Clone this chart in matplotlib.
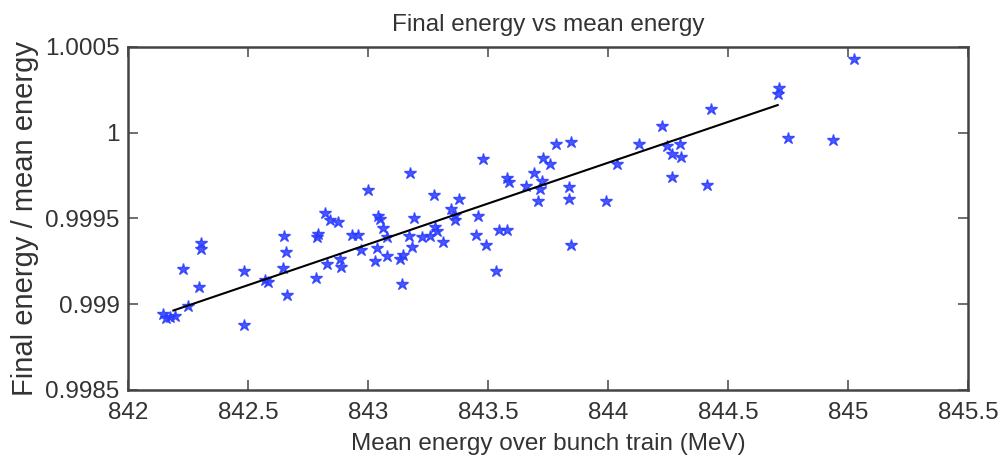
import matplotlib.pyplot as plt
import numpy as np

# mean energy over bunch train (MeV)
mean_energy = [
    842.147, 842.175, 842.196, 842.160, 842.249, 842.230, 842.303, 842.303,
    842.296, 842.483, 842.483, 842.582, 842.570, 842.650, 842.657, 842.645,
    842.661, 842.793, 842.786, 842.782, 842.830, 842.820, 842.840, 842.876,
    842.888, 842.883, 842.932, 842.960, 842.970, 842.999, 843.043, 843.050,
    843.064, 843.078, 843.036, 843.029, 843.080, 843.133, 843.145, 843.143,
    843.175, 843.170, 843.182, 843.193, 843.224, 843.258, 843.275, 843.279,
    843.289, 843.314, 843.345, 843.378, 843.364, 843.363, 843.458, 843.449,
    843.490, 843.480, 843.532, 843.547, 843.580, 843.578, 843.589, 843.658,
    843.692, 843.710, 843.717, 843.724, 843.728, 843.758, 843.782, 843.846,
    843.839, 843.839, 843.846, 843.992, 844.039, 844.129, 844.226, 844.245,
    844.268, 844.300, 844.303, 844.265, 844.411, 844.429, 844.714, 844.710,
    844.749, 844.936, 845.025,
]

# final energy / mean energy
ratio = [
    0.998944, 0.998924, 0.998930, 0.998920, 0.998988, 0.999205, 0.999356, 0.999321,
    0.999099, 0.999195, 0.998876, 0.999128, 0.999140, 0.999395, 0.999306, 0.999209,
    0.999054, 0.999409, 0.999391, 0.999151, 0.999234, 0.999530, 0.999490, 0.999480,
    0.999215, 0.999263, 0.999403, 0.999403, 0.999317, 0.999666, 0.999515, 0.999496,
    0.999442, 0.999390, 0.999326, 0.999253, 0.999279, 0.999263, 0.999287, 0.999118,
    0.999763, 0.999395, 0.999331, 0.999500, 0.999390, 0.999395, 0.999637, 0.999448,
    0.999428, 0.999360, 0.999554, 0.999612, 0.999492, 0.999520, 0.999515, 0.999403,
    0.999345, 0.999845, 0.999195, 0.999432, 0.999432, 0.999733, 0.999709, 0.999686,
    0.999767, 0.999602, 0.999670, 0.999719, 0.999849, 0.999816, 0.999932, 0.999945,
    0.999680, 0.999612, 0.999345, 0.999602, 0.999816, 0.999932, 1.000038, 0.999922,
    0.999874, 0.999932, 0.999855, 0.999738, 0.999694, 1.000135, 1.000262, 1.000223,
    0.999971, 0.999957, 1.000426,
]

# fitted line end points
fit_x = [842.189, 844.707]
fit_y = [0.998963, 1.000160]

xticks = [842, 842.5, 843, 843.5, 844, 844.5, 845, 845.5]
xticklabels = ["842", "842.5", "843", "843.5", "844", "844.5", "845", "845.5"]
yticks = [0.9985, 0.999, 0.9995, 1.0, 1.0005]
yticklabels = ["0.9985", "0.999", "0.9995", "1", "1.0005"]

plt.rcParams['font.family'] = ['Liberation Sans', 'DejaVu Sans']
txt = '#333333'

fig = plt.figure(figsize=(10.03, 4.68), dpi=100)
ax = fig.add_axes([0.1276, 0.1667, 0.8375, 0.7335])

ax.plot(mean_energy, ratio, linestyle='none', marker='*', markersize=9,
        color='#2a3cff', alpha=0.85)
ax.plot(fit_x, fit_y, color='black', lw=1.5)

ax.set_xlim(842, 845.5)
ax.set_ylim(0.9985, 1.0005)
ax.set_xticks(xticks)
ax.set_xticklabels(xticklabels)
ax.set_yticks(yticks)
ax.set_yticklabels(yticklabels)

ax.tick_params(direction='in', top=True, right=True, length=7, width=1.2,
               colors='#555555', labelcolor=txt, labelsize=17.5)
ax.tick_params(axis='x', pad=9)
ax.tick_params(axis='y', pad=6)
for s in ax.spines.values():
    s.set_color('#444444')
    s.set_linewidth(1.8)

ax.set_title("Final energy vs mean energy", fontsize=17.5, color=txt, pad=11)
ax.set_xlabel("Mean energy over bunch train (MeV)", fontsize=17.5, color=txt, labelpad=6)
ax.set_ylabel("Final energy / mean energy", fontsize=21, color=txt, labelpad=4)

fig.savefig("out.png", dpi=100)
